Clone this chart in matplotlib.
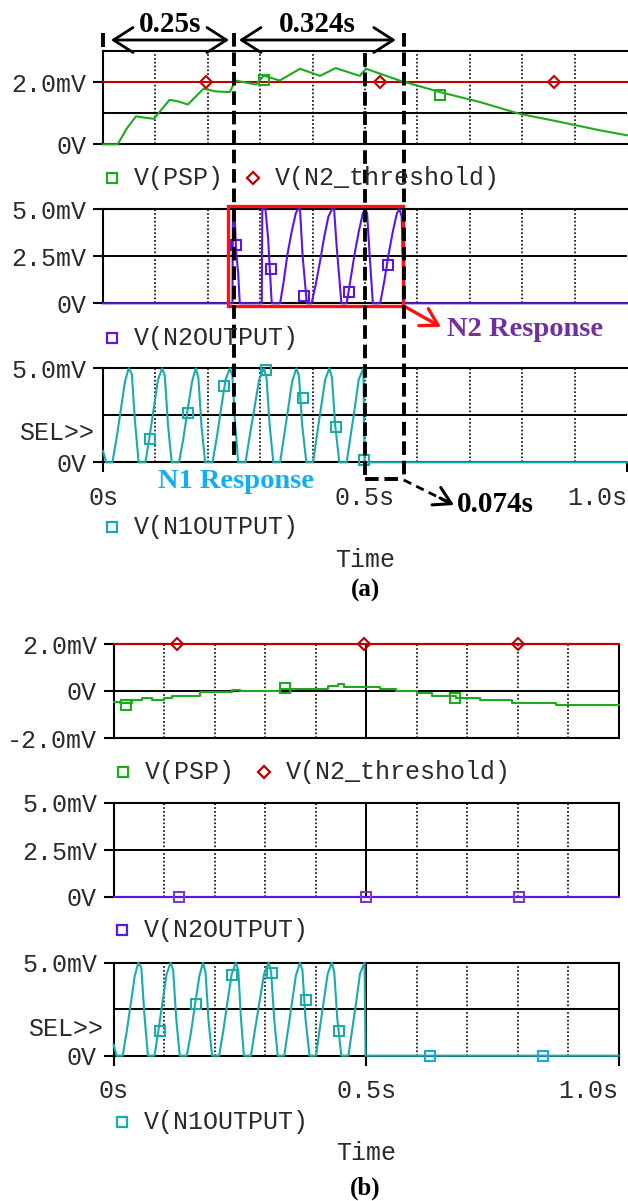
import numpy as np
import matplotlib
matplotlib.use('Agg')
import matplotlib.pyplot as plt
import matplotlib.patches as mpatches

plt.rcParams['font.family'] = ['Liberation Mono', 'DejaVu Sans Mono']

W, H = 628, 1201
FS = 18

GREEN = '#1eaa1e'
RED = '#c00000'
PURPLE = '#5b16e6'
PURPLE_MK = '#7a3cc8'
TEAL = '#1aabab'
CYAN = '#1aa6e8'
TXT = '#2a2a2a'

time_ticks = [0.0, 0.5, 1.0]
time_labels = ['0s', '0.5s', '1.0s']
grid_times = [0.1, 0.2, 0.3, 0.4, 0.5, 0.6, 0.7, 0.8, 0.9]

# ---- (a) post-synaptic potential and threshold, mV ----
psp_a_t = [0.0, 0.028, 0.045, 0.063, 0.078, 0.097, 0.127, 0.143, 0.162, 0.192,
           0.215, 0.242, 0.253, 0.292, 0.307, 0.337, 0.376, 0.414, 0.444, 0.490,
           0.502, 0.566, 0.643, 0.719, 0.795, 0.872, 0.948, 1.0]
psp_a_v = [0.0, 0.0, 0.5, 0.9, 0.86, 0.82, 1.43, 1.38, 1.28, 1.79,
           1.70, 1.68, 2.05, 1.92, 2.21, 2.05, 2.43, 2.20, 2.45, 2.20,
           2.43, 2.05, 1.68, 1.36, 0.98, 0.72, 0.45, 0.29]
psp_a_mk_t = [0.307, 0.643]
psp_a_mk_v = [2.07, 1.60]

thr_t = [0.0, 1.0]
thr_v = [2.0, 2.0]
thr_a_mk_t = [0.196, 0.528, 0.860]
thr_b_mk_t = [0.125, 0.495, 0.800]

# ---- (a) N2 output spikes, mV ----
n2_a_t = [0.0, 0.247, 0.248, 0.251, 0.254, 0.258, 0.261,
          0.303, 0.304, 0.310, 0.315, 0.322,
          0.338, 0.345, 0.352, 0.360, 0.368, 0.372, 0.376, 0.381, 0.389,
          0.398, 0.406, 0.414, 0.422, 0.430, 0.437, 0.441, 0.446, 0.455,
          0.465, 0.472, 0.480, 0.488, 0.496, 0.500, 0.504, 0.509, 0.515,
          0.529, 0.537, 0.545, 0.553, 0.561, 0.566, 0.570, 0.574, 1.0]
n2_a_v = [0.0, 0.0, 5.0, 4.8, 2.8, 1.6, 0.0,
          0.0, 5.0, 5.0, 3.5, 0.0,
          0.0, 1.2, 2.6, 3.8, 4.8, 5.0, 5.0, 2.5, 0.0,
          0.0, 1.0, 2.2, 3.5, 4.6, 5.0, 5.0, 3.0, 0.0,
          0.0, 1.2, 2.6, 3.8, 4.8, 5.0, 4.8, 2.5, 0.0,
          0.0, 1.2, 2.6, 3.8, 4.8, 5.0, 4.6, 0.0, 0.0]
n2_a_mk_t = [0.253, 0.321, 0.384, 0.470, 0.543]
n2_a_mk_v = [3.10, 1.81, 0.39, 0.62, 2.04]

# ---- N1 output spike train (same input in both runs), mV ----
n1_t = [0.0, 0.006,
        0.018, 0.026, 0.034, 0.042, 0.049, 0.055, 0.061, 0.068,
        0.081, 0.089, 0.097, 0.105, 0.113, 0.118, 0.124, 0.131,
        0.145, 0.153, 0.161, 0.170, 0.177, 0.182, 0.188, 0.195,
        0.209, 0.217, 0.225, 0.234, 0.242, 0.247, 0.252, 0.258,
        0.272, 0.280, 0.289, 0.298, 0.307, 0.312, 0.318, 0.325,
        0.338, 0.345, 0.353, 0.361, 0.369, 0.374, 0.380, 0.388,
        0.401, 0.408, 0.416, 0.424, 0.432, 0.437, 0.443, 0.451,
        0.465, 0.472, 0.480, 0.488, 0.497, 0.499, 1.0]
n1_v = [0.6, 0.0,
        0.0, 1.3, 2.8, 4.3, 5.0, 4.7, 2.2, 0.0,
        0.0, 1.4, 2.9, 4.4, 5.0, 4.6, 2.0, 0.0,
        0.0, 1.2, 2.7, 4.3, 5.0, 4.5, 1.9, 0.0,
        0.0, 1.3, 2.8, 4.4, 5.0, 4.6, 2.1, 0.0,
        0.0, 1.4, 2.9, 4.4, 5.0, 4.5, 2.0, 0.0,
        0.0, 1.3, 2.8, 4.3, 5.0, 4.6, 2.0, 0.0,
        0.0, 1.4, 2.9, 4.4, 5.0, 4.5, 2.0, 0.0,
        0.0, 1.3, 2.8, 4.4, 5.0, 0.0, 0.0]
n1_a_mk_t = [0.089, 0.162, 0.231, 0.312, 0.381, 0.444, 0.499]
n1_a_mk_v = [1.22, 2.60, 4.06, 4.90, 3.44, 1.90, 0.12]

# ---- (b) weak PSP, mV ----
psp_b_t = [0.0, 0.013, 0.036, 0.056, 0.076, 0.100, 0.116, 0.171, 0.187, 0.235,
           0.251, 0.282, 0.330, 0.425, 0.445, 0.457, 0.528, 0.560, 0.600, 0.631,
           0.679, 0.726, 0.790, 0.877, 1.0]
psp_b_v = [-0.45, -0.52, -0.38, -0.30, -0.38, -0.28, -0.21, -0.03, -0.03, 0.04,
           0.0, 0.0, 0.10, 0.20, 0.28, 0.18, 0.10, 0.0, -0.10, -0.20,
           -0.30, -0.38, -0.50, -0.60, -0.60]
psp_b_mk_t = [0.025, 0.340, 0.677]
psp_b_mk_v = [-0.60, 0.11, -0.31]

n2_b_t = [0.0, 1.0]
n2_b_v = [0.0, 0.0]
n2_b_mk_t = [0.129, 0.499, 0.802]
n2_b_mk_v = [0.0, 0.0, 0.0]

n1_b_mk_t = [0.092, 0.163, 0.235, 0.314, 0.381, 0.446]
n1_b_mk_v = [1.33, 2.78, 4.34, 4.46, 2.99, 1.33]
n1_b_tail_mk_t = [0.627, 0.851]
n1_b_tail_mk_v = [0.0, 0.0]

# annotation times (s)
t_first = 0.25
t_span = 0.324
t_end = t_first + t_span
t_mid = 0.5

fig = plt.figure(figsize=(W / 100, H / 100), dpi=100)


def px_axes(left, top, right, bottom):
    return fig.add_axes([left / W, 1 - bottom / H, (right - left) / W, (bottom - top) / H])


def style_axes(ax, ylim, yticks, ylabels, hlines, solid_mid=False, right=True):
    ax.set_xlim(0, 1)
    ax.set_ylim(*ylim)
    ax.set_yticks(yticks)
    ax.set_yticklabels(ylabels)
    ax.tick_params(axis='y', direction='out', length=7, width=1.5, pad=5,
                   labelsize=FS, labelcolor=TXT)
    ax.set_xticks([])
    for s in ax.spines.values():
        s.set_linewidth(1.5)
    ax.spines['right'].set_visible(right)
    for y in hlines:
        ax.axhline(y, color='k', lw=1.4, zorder=1)
    for t in grid_times:
        if t == 0.5 and solid_mid:
            ax.axvline(t, color='k', lw=1.4, zorder=1)
        else:
            ax.axvline(t, color='k', lw=1.2, ls=(0, (1, 1.3)), zorder=1)


def time_axis(ax):
    ax.set_xticks(time_ticks)
    ax.set_xticklabels(time_labels)
    ax.tick_params(axis='x', direction='out', length=7, width=1.5, pad=10,
                   labelsize=FS, labelcolor=TXT)
    ax.get_xticklabels()[-1].set_ha('right')


def trace(ax, t, v, color, **kw):
    ax.plot(t, v, color=color, lw=1.5, clip_on=False, zorder=3, **kw)


def marks(ax, t, v, color, marker='s'):
    ax.plot(t, v, ls='none', marker=marker, ms=7 if marker == 's' else 6,
            mfc='none', mec=color, mew=1.5, clip_on=False, zorder=4)


# ---------------- (a) ----------------
A_L, A_R = 103, 627
a1 = px_axes(A_L, 51, A_R, 144.3)
style_axes(a1, (0, 3), [0, 2], ['0V', '2.0mV'], [1], right=False)
trace(a1, thr_t, thr_v, RED)
trace(a1, psp_a_t, psp_a_v, GREEN)
marks(a1, psp_a_mk_t, psp_a_mk_v, GREEN)
marks(a1, thr_a_mk_t, [2.0] * len(thr_a_mk_t), RED, 'D')

a2 = px_axes(A_L, 209.3, A_R, 303.3)
style_axes(a2, (0, 5), [0, 2.5, 5], ['0V', '2.5mV', '5.0mV'], [2.5], right=False)
trace(a2, n2_a_t, n2_a_v, PURPLE)
marks(a2, n2_a_mk_t, n2_a_mk_v, PURPLE)
a2.add_patch(mpatches.Rectangle((0.239, -0.13), t_end - 0.001 - 0.239, 5.32, fill=False,
                                ec='#ff1111', lw=2.4, clip_on=False, zorder=5))

a3 = px_axes(A_L, 368.3, A_R, 462.3)
style_axes(a3, (0, 5), [0, 5], ['0V', '5.0mV'], [2.5], right=False)
trace(a3, n1_t, n1_v, TEAL)
marks(a3, n1_a_mk_t, n1_a_mk_v, TEAL)
time_axis(a3)

# ---------------- (b) ----------------
B_L, B_R = 113.6, 618.5
b1 = px_axes(B_L, 644, B_R, 738)
style_axes(b1, (-2, 2), [-2, 0, 2], ['-2.0mV', '0V', '2.0mV'], [0], solid_mid=True)
trace(b1, psp_b_t, psp_b_v, GREEN, drawstyle='steps-post')
trace(b1, thr_t, thr_v, RED)
marks(b1, psp_b_mk_t, psp_b_mk_v, GREEN)
marks(b1, thr_b_mk_t, [2.0] * len(thr_b_mk_t), RED, 'D')

b2 = px_axes(B_L, 803, B_R, 897)
style_axes(b2, (0, 5), [0, 2.5, 5], ['0V', '2.5mV', '5.0mV'], [2.5], solid_mid=True)
trace(b2, n2_b_t, n2_b_v, PURPLE)
marks(b2, n2_b_mk_t, n2_b_mk_v, PURPLE_MK)

b3 = px_axes(B_L, 962.7, B_R, 1055.7)
style_axes(b3, (0, 5), [0, 5], ['0V', '5.0mV'], [2.5], solid_mid=True)
trace(b3, n1_t, n1_v, TEAL)
marks(b3, n1_b_mk_t, n1_b_mk_v, TEAL)
marks(b3, n1_b_tail_mk_t, n1_b_tail_mk_v, CYAN)
time_axis(b3)

# ---------------- overlay: legends, labels, annotations ----------------
ov = fig.add_axes([0, 0, 1, 1], facecolor='none')
ov.set_xlim(0, W)
ov.set_ylim(H, 0)
ov.axis('off')


def legend_key(x, y, marker, color, text):
    ov.plot([x], [y], ls='none', marker=marker, ms=7 if marker == 's' else 6,
            mfc='none', mec=color, mew=1.6)
    ov.text(x + 22, y, text, va='center', ha='left', fontsize=FS, color=TXT)


legend_key(112, 178, 's', GREEN, 'V(PSP)')
legend_key(253, 178, 'D', RED, 'V(N2_threshold)')
legend_key(112, 338, 's', PURPLE, 'V(N2OUTPUT)')
legend_key(112, 527, 's', TEAL, 'V(N1OUTPUT)')
legend_key(123, 772, 's', GREEN, 'V(PSP)')
legend_key(264, 772, 'D', RED, 'V(N2_threshold)')
legend_key(122, 930, 's', PURPLE, 'V(N2OUTPUT)')
legend_key(122, 1122, 's', TEAL, 'V(N1OUTPUT)')

ov.text(94, 433, 'SEL>>', ha='right', va='center', fontsize=FS, color=TXT)
ov.text(103, 1029, 'SEL>>', ha='right', va='center', fontsize=FS, color=TXT)
ov.text(365, 560, 'Time', ha='center', va='center', fontsize=FS, color=TXT)
ov.text(366, 1153, 'Time', ha='center', va='center', fontsize=FS, color=TXT)

BOLD = dict(family=['Liberation Serif', 'DejaVu Serif'], weight='bold')
ov.text(366, 590, '(a)', ha='center', va='center', fontsize=18, **BOLD)
ov.text(365, 1188, '(b)', ha='center', va='center', fontsize=18, **BOLD)


def xa(t):
    return A_L + t * (A_R - A_L)


DASH = dict(color='k', lw=2.8, ls=(0, (3.5, 1.5)), solid_capstyle='butt')
ov.plot([xa(0), xa(0)], [33, 47], color='k', lw=2.8, solid_capstyle='butt')
ov.plot([xa(t_first), xa(t_first)], [33, 455], **DASH)
ov.plot([xa(t_mid), xa(t_mid)], [53, 479], **DASH)
ov.plot([xa(t_end), xa(t_end)], [33, 479], **DASH)
ov.plot([xa(t_mid), xa(t_end)], [479, 479], **DASH)

# interval arrows
spans = [(xa(0) + 8, xa(t_first) - 5, '%gs' % t_first),
         (xa(t_first) + 5, xa(t_end) - 8, '%gs' % t_span)]
for x0, x1, lab in spans:
    ov.add_patch(mpatches.FancyArrowPatch((x0, 40), (x1, 40),
                                          arrowstyle='<->,head_length=0.7,head_width=0.45',
                                          mutation_scale=20, lw=2, color='k',
                                          shrinkA=0, shrinkB=0))
    ov.text((x0 + x1) / 2, 24, lab, ha='center', va='center', fontsize=21, **BOLD)

# N2 response box pointer
ov.add_patch(mpatches.FancyArrowPatch((xa(t_end), 306), (441, 327),
                                      arrowstyle='->,head_length=0.6,head_width=0.35',
                                      mutation_scale=20, lw=2.4, color='#ff1111',
                                      shrinkA=0, shrinkB=0))
ov.text(525, 329, 'N2 Response', ha='center', va='center', fontsize=20.5,
        color='#7030a0', **BOLD)
ov.text(236, 482, 'N1 Response', ha='center', va='center', fontsize=20.5,
        color='#10b0f0', **BOLD)

# delay pointer
ov.plot([xa(t_end), 447], [480, 501.5], color='k', lw=2, ls=(0, (3, 2)))
ov.add_patch(mpatches.FancyArrowPatch((440, 498), (454, 505),
                                      arrowstyle='->,head_length=0.6,head_width=0.35',
                                      mutation_scale=20, lw=2.2, color='k',
                                      shrinkA=0, shrinkB=0))
ov.text(495, 504, '%.3fs' % (t_end - t_mid), ha='center', va='center', fontsize=21, **BOLD)

fig.savefig('out.png', dpi=100)
